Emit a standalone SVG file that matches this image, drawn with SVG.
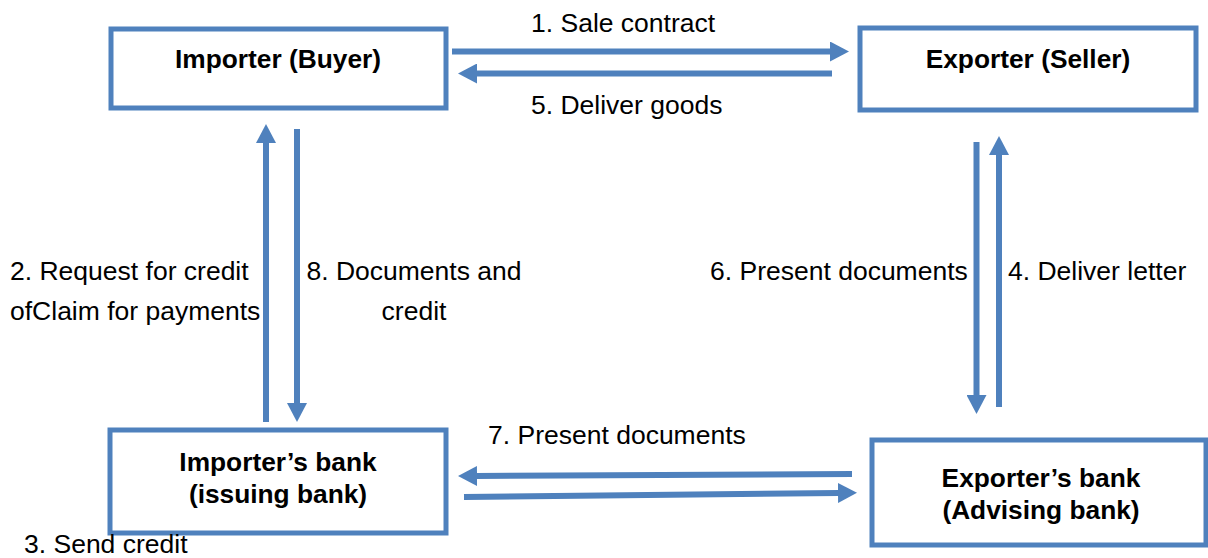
<svg xmlns="http://www.w3.org/2000/svg" width="1208" height="558" viewBox="0 0 1208 558">
<style>
.box{fill:#fff;stroke:#4F81BD;stroke-width:5}
.t{font-family:"Liberation Sans",Arial,sans-serif;font-size:26.5px;fill:#000}
.b{font-family:"Liberation Sans",Arial,sans-serif;font-size:26.3px;font-weight:bold;fill:#000;text-anchor:middle}
.arr{stroke:#4F81BD;stroke-width:6;fill:none;marker-end:url(#ah)}
</style>
<defs>
<marker id="ah" markerUnits="userSpaceOnUse" markerWidth="20" markerHeight="20" refX="1" refY="10" orient="auto" viewBox="0 0 20 20">
<path d="M0,0 L19,10 L0,20 Z" fill="#4F81BD"/>
</marker>
</defs>
<rect width="1208" height="558" fill="#fff"/>
<g id="importer">
<rect class="box" x="111" y="29" width="335" height="79"/>
<text class="b" x="278" y="68">Importer (Buyer)</text>
</g>
<g id="exporter">
<rect class="box" x="860" y="28" width="336" height="82"/>
<text class="b" x="1028" y="68">Exporter (Seller)</text>
</g>
<g id="importer-bank">
<rect class="box" x="110" y="430" width="336" height="103"/>
<text class="b" x="278" y="471">Importer’s bank</text>
<text class="b" x="278" y="503">(issuing bank)</text>
</g>
<g id="exporter-bank">
<rect class="box" x="872" y="440" width="334" height="105"/>
<text class="b" x="1041" y="487">Exporter’s bank</text>
<text class="b" x="1041" y="519">(Advising bank)</text>
</g>
<g id="connectors">
<path class="arr" d="M452,51.5 L831,51.5"/>
<path class="arr" d="M832,73.5 L476,73.5"/>
<path class="arr" d="M266,422 L266,142"/>
<path class="arr" d="M297,129 L297,404"/>
<path class="arr" d="M976.5,142 L976.5,396"/>
<path class="arr" d="M999,407 L999,154"/>
<path class="arr" d="M852,474 L476,476"/>
<path class="arr" d="M464,497 L839,493"/>
</g>
<g id="labels">
<text class="t" x="531" y="32">1. Sale contract</text>
<text class="t" x="531" y="114">5. Deliver goods</text>
<text class="t" x="10" y="280">2. Request for credit</text>
<text class="t" x="10" y="320">ofClaim for payments</text>
<text class="t" x="414" y="280" text-anchor="middle">8. Documents and</text>
<text class="t" x="414" y="320" text-anchor="middle">credit</text>
<text class="t" x="710" y="280">6. Present documents</text>
<text class="t" x="1008" y="280">4. Deliver letter</text>
<text class="t" x="488" y="444">7. Present documents</text>
<text class="t" x="24" y="553">3. Send credit</text>
</g>
</svg>
